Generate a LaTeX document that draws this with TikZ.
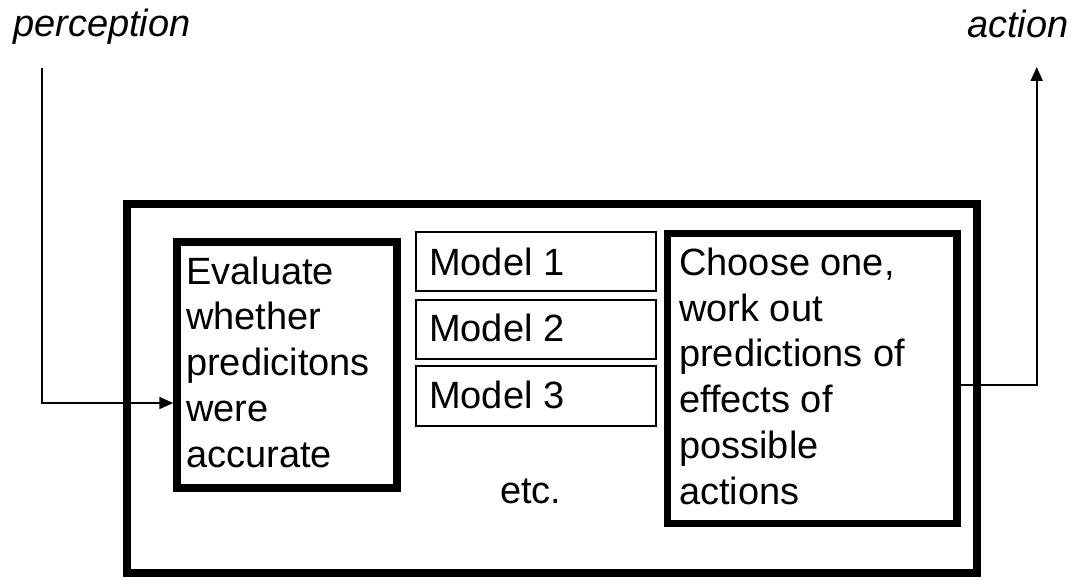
\documentclass[tikz,border=0pt]{standalone}
\usepackage{fontspec}
\setmainfont{Liberation Sans}
\usetikzlibrary{arrows.meta}
\begin{document}
\begin{tikzpicture}[x=1pt,y=-1pt,
  heavybox/.style={draw,rectangle,line width=7.5pt,inner sep=0pt},
  modelbox/.style={draw,rectangle,line width=1.4pt,inner sep=0pt,minimum width=240pt},
  txt/.style={inner sep=0pt,anchor=base west,align=left,font=\fontsize{38}{45.7}\selectfont},
  flow/.style={line width=2pt,-{Triangle[length=14pt,width=12pt]}}
]
\useasboundingbox (0,0) rectangle (1087,580);

% outer frame
\node[heavybox,minimum width=850pt,minimum height=369pt] (frame) at (552,388.5) {};

% evaluation box (multi-line text is placed by the baseline of its last line)
\node[heavybox,minimum width=220pt,minimum height=246pt] (evalbox) at (287,365) {};
\node[txt] (evaltext) at (186,467) {Evaluate\\whether\\predicitons\\were\\accurate};

% model stack
\node[modelbox,minimum height=59pt] (m1) at (536,261.5) {};
\node[modelbox,minimum height=59pt] (m2) at (536,329.5) {};
\node[modelbox,minimum height=60pt] (m3) at (536,396) {};
\node[txt] (m1text) at (429,275) {Model 1};
\node[txt] (m2text) at (429,341) {Model 2};
\node[txt] (m3text) at (429,408) {Model 3};
\node[txt] (etc) at (500,503) {etc.};

% choice box
\node[heavybox,minimum width=289.5pt,minimum height=290pt] (choosebox) at (812.25,378.5) {};
\node[txt] (choosetext) at (679,504) {Choose one,\\work out\\predictions of\\effects of\\possible\\actions};

% perception and action labels
\node[txt,font=\fontsize{38}{45.7}\selectfont\itshape] (perception) at (13,37) {perception};
\node[txt,font=\fontsize{38}{45.7}\selectfont\itshape] (action) at (967,38) {action};

% connectors
\coordinate (inTop) at (41.5,68);
\coordinate (inBend) at (41.5,403);
\coordinate (outBend) at (1036.7,385);
\coordinate (outTop) at (1036.7,67);
\draw[flow] (inTop) -- (inBend) -- (inBend -| evalbox.west);
\draw[flow] (choosebox.east |- outBend) -- (outBend) -- (outTop);
\end{tikzpicture}
\end{document}
